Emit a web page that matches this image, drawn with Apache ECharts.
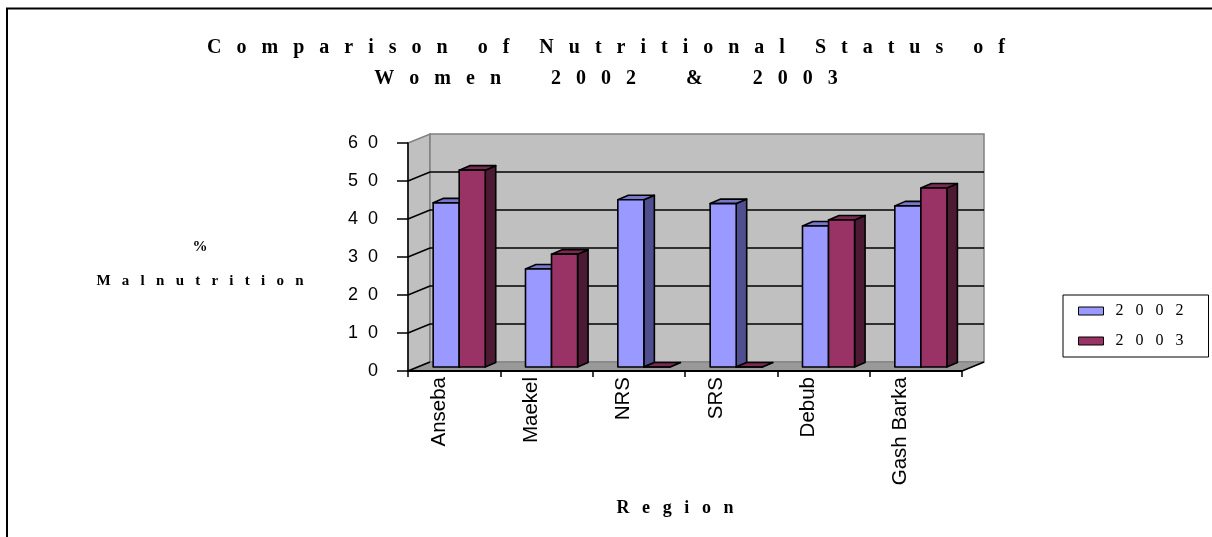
<!DOCTYPE html>
<html>
<head>
<meta charset="utf-8">
<script src="https://cdn.jsdelivr.net/npm/echarts@6/dist/echarts.min.js"></script>
<style>
  html, body { margin: 0; padding: 0; background: #fff; }
  #chart { width: 1212px; height: 537px; }
</style>
</head>
<body>
<div id="chart"></div>
<script>
// data
const categories = ['Anseba', 'Maekel', 'NRS', 'SRS', 'Debub', 'Gash Barka'];
const values2002 = [43.2, 25.8, 44, 43, 37.1, 42.4];
const values2003 = [51.8, 29.7, 0, 0, 38.7, 47.1];
const seriesNames = ['2002', '2003'];
const yTicks = [0, 10, 20, 30, 40, 50, 60];

const titleLines = ['Comparison of Nutritional Status of', 'Women 2002 & 2003'];
const yTitle = ['%', 'Malnutrition'];
const xTitle = 'Region';

// depth of the 3d box (pixels)
const DX = 22, DY = -9;
// bars sit a bit behind the front plane
const BAR_DY = -4, BDX = 10.5, BDY = -4.5;

const chart = echarts.init(document.getElementById('chart'));

// spread the letters like the old excel rendering
function spaced (s, sep) {
  return s.split('').join(sep);
}
function spacedWords (s, sep, wordSep) {
  return s.split(' ').map(w => spaced(w, sep)).join(wordSep);
}

function renderWalls (params, api) {
  const cs = params.coordSys;
  const L = cs.x, R = cs.x + cs.width, T = cs.y, B = cs.y + cs.height;
  const children = [
    { type: 'polygon', shape: { points: [[L, T], [L + DX, T + DY], [L + DX, B + DY], [L, B]] },
      style: { fill: '#c0c0c0', stroke: '#808080', lineWidth: 1.5 } },
    { type: 'rect', shape: { x: L + DX, y: T + DY, width: cs.width, height: cs.height },
      style: { fill: '#c0c0c0', stroke: '#808080', lineWidth: 1.5 } },
    { type: 'polygon', shape: { points: [[L, B], [R, B], [R + DX, B + DY], [L + DX, B + DY]] },
      style: { fill: '#999999', stroke: '#808080', lineWidth: 1 } },
    { type: 'line', shape: { x1: R, y1: B, x2: R + DX, y2: B + DY },
      style: { stroke: '#000', lineWidth: 1.5 } }
  ];
  yTicks.forEach(v => {
    if (v >= 60) return;
    const y = api.coord([0, v])[1];
    children.push({ type: 'line', shape: { x1: L, y1: y, x2: L + DX, y2: y + DY },
      style: { stroke: '#000', lineWidth: 1.5 } });
    if (v > 0) {
      children.push({ type: 'line', shape: { x1: L + DX, y1: y + DY, x2: R + DX, y2: y + DY },
        style: { stroke: '#000', lineWidth: 1.5 } });
    }
  });
  return { type: 'group', children: children };
}

function barRenderer (slot, colors) {
  return function (params, api) {
    const i = api.value(0);
    const v = api.value(1);
    const band = api.size([1, 0])[0];
    const base = api.coord([i, 0]);
    const top = api.coord([i, v]);
    const w = band * 0.282;
    const x0 = base[0] - band * 0.2275 + slot * w;
    const x1 = x0 + w;
    const yb = base[1] + BAR_DY;
    const yt = top[1] + BAR_DY;
    const line = { stroke: '#000', lineWidth: 1.6, lineJoin: 'round' };
    return {
      type: 'group',
      children: [
        { type: 'polygon', shape: { points: [[x1, yt], [x1 + BDX, yt + BDY], [x1 + BDX, yb + BDY], [x1, yb]] },
          style: Object.assign({ fill: colors[2] }, line) },
        { type: 'polygon', shape: { points: [[x0, yt], [x1, yt], [x1 + BDX, yt + BDY], [x0 + BDX, yt + BDY]] },
          style: Object.assign({ fill: colors[1] }, line) },
        { type: 'rect', shape: { x: x0, y: yt, width: w, height: yb - yt },
          style: Object.assign({ fill: colors[0] }, line) }
      ]
    };
  };
}

const colors2002 = ['#9999ff', '#7777cc', '#4f4f8f'];
const colors2003 = ['#993366', '#7a2952', '#4d1a33'];
// gap between words, per title line
const titleWordSeps = ['      ', '          '];

const option = {
  backgroundColor: '#fff',
  animation: false,
  title: {
    text: titleLines.map((t, k) => spacedWords(t, '   ', titleWordSeps[k])).join('\n'),
    left: 'center',
    top: 32,
    padding: 0,
    textStyle: {
      fontFamily: 'Liberation Serif',
      fontWeight: 'bold',
      fontSize: 20,
      lineHeight: 31,
      color: '#000'
    }
  },
  legend: {
    data: seriesNames,
    orient: 'vertical',
    left: 1063,
    top: 295,
    padding: [8, 25, 8, 15],
    itemGap: 14,
    itemWidth: 25,
    itemHeight: 8,
    icon: 'rect',
    borderColor: '#000',
    borderWidth: 1,
    backgroundColor: '#fff',
    itemStyle: { borderColor: '#000', borderWidth: 1 },
    formatter: name => spaced(name, '   '),
    textStyle: { fontFamily: 'Liberation Serif', fontSize: 16, color: '#000', padding: [0, 0, 0, 7] }
  },
  grid: [
    { left: 408, top: 143, width: 554, height: 228 },
    { left: 393, top: 143, width: 554, height: 228 }
  ],
  xAxis: [
    {
      type: 'category',
      data: categories,
      z: 5,
      axisLine: { lineStyle: { color: '#000', width: 2 } },
      axisTick: { show: true, length: 6, lineStyle: { color: '#000', width: 1.5 } },
      axisLabel: { show: false },
      splitLine: { show: false }
    },
    {
      type: 'category',
      gridIndex: 1,
      data: categories,
      axisLine: { show: false },
      axisTick: { show: false },
      axisLabel: {
        rotate: 90,
        margin: 6,
        fontFamily: 'Liberation Sans',
        fontSize: 20.5,
        color: '#000'
      },
      name: spaced(xTitle, '  \u2009'),
      nameLocation: 'middle',
      nameGap: 128,
      nameTextStyle: {
        fontFamily: 'Liberation Serif',
        fontWeight: 'bold',
        fontSize: 18,
        color: '#000',
        padding: [0, 0, 0, 10]
      }
    }
  ],
  yAxis: [
    {
      type: 'value',
      min: 0,
      max: 60,
      interval: 10,
      z: 5,
      axisLine: { show: true, lineStyle: { color: '#000', width: 1.5 } },
      axisTick: { show: true, length: 11, lineStyle: { color: '#000', width: 1.5 } },
      splitLine: { show: false },
      axisLabel: {
        margin: 30,
        fontFamily: 'Liberation Sans',
        fontSize: 18,
        color: '#000',
        formatter: v => spaced(String(v), '  ')
      }
    },
    { type: 'value', gridIndex: 1, min: 0, max: 60, show: false }
  ],
  series: [
    {
      type: 'custom',
      name: 'walls',
      z: 1,
      clip: false,
      silent: true,
      renderItem: renderWalls,
      data: [[0, 0]]
    },
    {
      type: 'custom',
      name: seriesNames[0],
      z: 2,
      clip: false,
      itemStyle: { color: colors2002[0] },
      renderItem: barRenderer(0, colors2002),
      encode: { x: 0, y: 1 },
      data: values2002.map((v, i) => [i, v])
    },
    {
      type: 'custom',
      name: seriesNames[1],
      z: 3,
      clip: false,
      itemStyle: { color: colors2003[0] },
      renderItem: barRenderer(1, colors2003),
      encode: { x: 0, y: 1 },
      data: values2003.map((v, i) => [i, v])
    }
  ],
  graphic: [
    {
      type: 'rect',
      shape: { x: 7, y: 8.5, width: 1300, height: 600 },
      style: { fill: 'none', stroke: '#000', lineWidth: 2 },
      silent: true
    },
    {
      // y axis title, two centred lines
      type: 'text',
      style: {
        x: 200,
        y: 264,
        text: yTitle[0] + '\n' + spaced(yTitle[1], '   '),
        align: 'center',
        verticalAlign: 'middle',
        lineHeight: 34,
        font: 'bold 15px "Liberation Serif"',
        fill: '#000'
      },
      silent: true
    }
  ]
};

chart.setOption(option);
</script>
</body>
</html>
